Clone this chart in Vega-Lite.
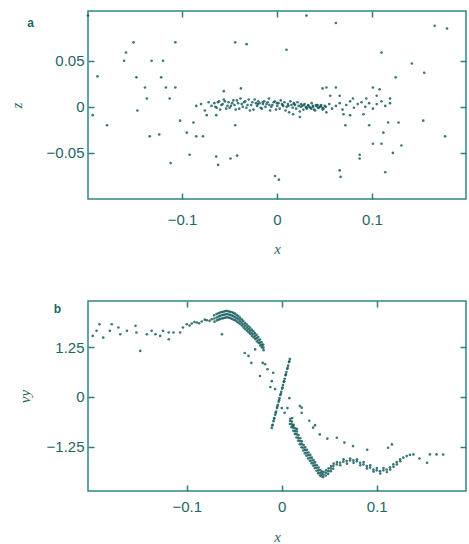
{
  "$schema": "https://vega.github.io/schema/vega-lite/v6.json",
  "background": "white",
  "padding": {"left": 8, "top": 9, "right": 3, "bottom": 3},
  "spacing": 102,
  "bounds": "flush",
  "config": {
    "view": {"stroke": "#2f8585", "strokeWidth": 1.5},
    "axis": {
      "domain": false,
      "grid": false,
      "tickColor": "#2a7f7f",
      "tickSize": -6,
      "tickWidth": 1.5,
      "labelFont": "Liberation Sans",
      "labelFontSize": 15,
      "labelColor": "#1e6565",
      "titleFont": "Liberation Serif",
      "titleFontSize": 15,
      "titleFontStyle": "italic",
      "titleFontWeight": "normal",
      "titleColor": "#1e6565"
    }
  },
  "datasets": {
    "a": [
      {"x": -0.199, "z": 0.099}, {"x": -0.151, "z": 0.070}, {"x": -0.107, "z": 0.070}, {"x": -0.044, "z": 0.070},
      {"x": -0.032, "z": 0.068}, {"x": 0.010, "z": 0.062}, {"x": 0.110, "z": 0.059}, {"x": -0.159, "z": 0.059},
      {"x": -0.161, "z": 0.050}, {"x": -0.132, "z": 0.050}, {"x": -0.120, "z": 0.050}, {"x": 0.142, "z": 0.047},
      {"x": 0.155, "z": 0.037}, {"x": 0.125, "z": 0.032}, {"x": -0.148, "z": 0.032}, {"x": -0.122, "z": 0.032},
      {"x": -0.189, "z": 0.033}, {"x": -0.117, "z": 0.021}, {"x": -0.107, "z": 0.021}, {"x": -0.139, "z": 0.021},
      {"x": -0.056, "z": 0.017}, {"x": -0.038, "z": 0.020}, {"x": 0.052, "z": 0.021}, {"x": 0.062, "z": 0.021},
      {"x": 0.101, "z": 0.021}, {"x": 0.108, "z": 0.019}, {"x": -0.137, "z": 0.009}, {"x": -0.113, "z": 0.009},
      {"x": -0.085, "z": 0.001}, {"x": -0.147, "z": -0.004}, {"x": -0.194, "z": -0.009}, {"x": -0.179, "z": -0.020},
      {"x": -0.102, "z": -0.015}, {"x": -0.088, "z": -0.017}, {"x": -0.074, "z": -0.009}, {"x": -0.064, "z": -0.009},
      {"x": -0.044, "z": -0.020}, {"x": 0.072, "z": -0.020}, {"x": 0.097, "z": -0.020}, {"x": 0.117, "z": -0.017},
      {"x": 0.128, "z": -0.017}, {"x": 0.154, "z": -0.015}, {"x": -0.134, "z": -0.032}, {"x": -0.124, "z": -0.030},
      {"x": -0.095, "z": -0.028}, {"x": -0.085, "z": -0.032}, {"x": -0.078, "z": -0.032}, {"x": 0.112, "z": -0.028},
      {"x": 0.177, "z": -0.032}, {"x": 0.101, "z": -0.040}, {"x": 0.110, "z": -0.040}, {"x": 0.122, "z": -0.050},
      {"x": 0.131, "z": -0.042}, {"x": -0.092, "z": -0.052}, {"x": -0.064, "z": -0.054}, {"x": -0.049, "z": -0.056},
      {"x": -0.042, "z": -0.053}, {"x": -0.112, "z": -0.061}, {"x": -0.062, "z": -0.063}, {"x": 0.087, "z": -0.052},
      {"x": 0.087, "z": -0.056}, {"x": 0.066, "z": -0.069}, {"x": 0.067, "z": -0.076}, {"x": 0.114, "z": -0.071},
      {"x": -0.002, "z": -0.075}, {"x": 0.002, "z": -0.079}, {"x": 0.031, "z": 0.099}, {"x": 0.062, "z": 0.091},
      {"x": 0.166, "z": 0.088}, {"x": 0.179, "z": 0.085}, {"x": 0.048, "z": 0.020}, {"x": 0.056, "z": 0.012},
      {"x": 0.066, "z": 0.012}, {"x": 0.080, "z": 0.009}, {"x": 0.094, "z": 0.009}, {"x": 0.105, "z": 0.012},
      {"x": 0.119, "z": 0.009}, {"x": 0.052, "z": -0.006}, {"x": 0.070, "z": -0.008}, {"x": 0.077, "z": -0.009},
      {"x": 0.091, "z": -0.008}, {"x": 0.017, "z": -0.008}, {"x": 0.024, "z": -0.011},
      {"x": -0.066, "z": 0.004}, {"x": -0.0635, "z": -0.001}, {"x": -0.061, "z": 0.006}, {"x": -0.0585, "z": 0.002},
      {"x": -0.056, "z": 0.008}, {"x": -0.0535, "z": -0.002}, {"x": -0.051, "z": 0.005}, {"x": -0.0485, "z": 0.001},
      {"x": -0.046, "z": 0.007}, {"x": -0.0435, "z": -0.003}, {"x": -0.041, "z": 0.004}, {"x": -0.0385, "z": 0.009},
      {"x": -0.036, "z": 0.000}, {"x": -0.0335, "z": 0.006}, {"x": -0.031, "z": 0.002}, {"x": -0.0285, "z": -0.004},
      {"x": -0.026, "z": 0.005}, {"x": -0.0235, "z": 0.008}, {"x": -0.021, "z": 0.001}, {"x": -0.0185, "z": 0.004},
      {"x": -0.016, "z": -0.002}, {"x": -0.0135, "z": 0.006}, {"x": -0.011, "z": 0.003}, {"x": -0.0085, "z": 0.009},
      {"x": -0.006, "z": 0.000}, {"x": -0.0035, "z": 0.005}, {"x": -0.001, "z": -0.003}, {"x": 0.0015, "z": 0.004},
      {"x": 0.004, "z": 0.007}, {"x": 0.0065, "z": 0.001}, {"x": 0.009, "z": -0.004}, {"x": 0.0115, "z": 0.003},
      {"x": 0.014, "z": 0.006}, {"x": 0.0165, "z": -0.001}, {"x": 0.019, "z": 0.002}, {"x": 0.0215, "z": 0.005},
      {"x": 0.024, "z": -0.005}, {"x": 0.0265, "z": 0.001}, {"x": 0.029, "z": 0.003}, {"x": 0.0315, "z": -0.002},
      {"x": 0.034, "z": 0.000}, {"x": 0.0365, "z": 0.004}, {"x": 0.039, "z": -0.003}, {"x": 0.0415, "z": 0.001},
      {"x": 0.044, "z": -0.001}, {"x": 0.0465, "z": 0.002}, {"x": 0.049, "z": -0.002}, {"x": 0.0515, "z": 0.000},
      {"x": -0.0648, "z": 0.000}, {"x": -0.0622, "z": 0.005}, {"x": -0.0598, "z": -0.003}, {"x": -0.0572, "z": 0.003},
      {"x": -0.0548, "z": 0.006}, {"x": -0.0522, "z": 0.001}, {"x": -0.0498, "z": -0.001}, {"x": -0.0472, "z": 0.004},
      {"x": -0.0448, "z": 0.002}, {"x": -0.0422, "z": 0.007}, {"x": -0.0398, "z": -0.002}, {"x": -0.0372, "z": 0.003},
      {"x": -0.0348, "z": 0.005}, {"x": -0.0322, "z": -0.001}, {"x": -0.0298, "z": 0.008}, {"x": -0.0272, "z": 0.002},
      {"x": -0.0248, "z": -0.003}, {"x": -0.0222, "z": 0.004}, {"x": -0.0198, "z": 0.006}, {"x": -0.0172, "z": -0.001},
      {"x": -0.0148, "z": 0.003}, {"x": -0.0122, "z": 0.000}, {"x": -0.0098, "z": 0.005}, {"x": -0.0072, "z": -0.004},
      {"x": -0.0048, "z": 0.002}, {"x": -0.0022, "z": 0.006}, {"x": 0.0002, "z": 0.001}, {"x": 0.0028, "z": -0.002},
      {"x": 0.0052, "z": 0.003}, {"x": 0.0078, "z": 0.005}, {"x": 0.0102, "z": 0.000}, {"x": 0.0128, "z": -0.006},
      {"x": 0.0152, "z": 0.002}, {"x": 0.0178, "z": 0.004}, {"x": 0.0202, "z": -0.002}, {"x": 0.0228, "z": 0.001},
      {"x": 0.0252, "z": 0.003}, {"x": 0.0278, "z": -0.003}, {"x": 0.0302, "z": 0.000}, {"x": 0.0328, "z": 0.002},
      {"x": 0.0352, "z": -0.001}, {"x": 0.0378, "z": 0.001}, {"x": 0.0402, "z": -0.004}, {"x": 0.0428, "z": 0.002},
      {"x": 0.0452, "z": 0.000}, {"x": 0.0478, "z": -0.001}, {"x": 0.0502, "z": 0.001},
      {"x": 0.025, "z": 0.000}, {"x": 0.028, "z": 0.002}, {"x": 0.031, "z": -0.001}, {"x": 0.033, "z": 0.001},
      {"x": 0.036, "z": -0.002}, {"x": 0.038, "z": 0.000}, {"x": 0.041, "z": 0.002}, {"x": 0.043, "z": -0.001},
      {"x": 0.046, "z": 0.001}, {"x": 0.048, "z": -0.003}, {"x": -0.020, "z": 0.003}, {"x": -0.015, "z": 0.005},
      {"x": -0.008, "z": 0.002}, {"x": 0.000, "z": 0.004}, {"x": 0.006, "z": 0.002}, {"x": 0.012, "z": 0.001},
      {"x": 0.018, "z": 0.003},
      {"x": -0.080, "z": 0.003}, {"x": -0.076, "z": -0.004}, {"x": -0.072, "z": 0.005}, {"x": -0.069, "z": 0.001},
      {"x": 0.055, "z": 0.003}, {"x": 0.058, "z": -0.002}, {"x": 0.062, "z": 0.001}, {"x": 0.066, "z": 0.004},
      {"x": 0.069, "z": -0.003}, {"x": 0.073, "z": 0.002}, {"x": 0.077, "z": 0.006}, {"x": 0.081, "z": -0.001},
      {"x": 0.085, "z": 0.003}, {"x": 0.089, "z": 0.005}, {"x": 0.093, "z": 0.000}, {"x": 0.097, "z": 0.004},
      {"x": 0.101, "z": -0.002}, {"x": 0.105, "z": 0.003}, {"x": 0.110, "z": 0.006}, {"x": 0.114, "z": 0.001},
      {"x": 0.119, "z": 0.004}
    ],
    "b": [
      {"x": -0.199, "vy": 1.540}, {"x": -0.195, "vy": 1.667}, {"x": -0.192, "vy": 1.835}, {"x": -0.179, "vy": 1.835},
      {"x": -0.172, "vy": 1.751}, {"x": -0.170, "vy": 1.582}, {"x": -0.163, "vy": 1.667}, {"x": -0.154, "vy": 1.793},
      {"x": -0.153, "vy": 1.625}, {"x": -0.149, "vy": 1.162}, {"x": -0.142, "vy": 1.582}, {"x": -0.137, "vy": 1.667},
      {"x": -0.133, "vy": 1.582}, {"x": -0.128, "vy": 1.540}, {"x": -0.125, "vy": 1.667}, {"x": -0.119, "vy": 1.456},
      {"x": -0.114, "vy": 1.625}, {"x": -0.107, "vy": 1.625}, {"x": -0.104, "vy": 1.751}, {"x": -0.181, "vy": 1.667},
      {"x": -0.188, "vy": 1.498}, {"x": -0.119, "vy": 1.625}, {"x": -0.063, "vy": 1.582},
      {"x": -0.100, "vy": 1.835}, {"x": -0.097, "vy": 1.80}, {"x": -0.0947, "vy": 1.852}, {"x": -0.092, "vy": 1.89},
      {"x": -0.0895, "vy": 1.877}, {"x": -0.087, "vy": 1.86}, {"x": -0.0842, "vy": 1.902}, {"x": -0.081, "vy": 1.95},
      {"x": -0.0789, "vy": 1.936}, {"x": -0.076, "vy": 1.92}, {"x": -0.0737, "vy": 1.961},
      {"x": -0.0710, "vy": 1.98}, {"x": -0.0712, "vy": 2.06}, {"x": -0.0708, "vy": 1.90},
      {"x": -0.0684, "vy": 2.003}, {"x": -0.0686, "vy": 2.09}, {"x": -0.0682, "vy": 1.93},
      {"x": -0.0665, "vy": 2.03}, {"x": -0.0667, "vy": 2.11}, {"x": -0.0663, "vy": 1.95},
      {"x": -0.0649, "vy": 2.045}, {"x": -0.0651, "vy": 2.13}, {"x": -0.0647, "vy": 1.97},
      {"x": -0.0630, "vy": 2.06}, {"x": -0.0632, "vy": 2.14}, {"x": -0.0628, "vy": 1.98},
      {"x": -0.0614, "vy": 2.071}, {"x": -0.0616, "vy": 2.15}, {"x": -0.0612, "vy": 1.99},
      {"x": -0.0597, "vy": 2.08}, {"x": -0.0599, "vy": 2.16}, {"x": -0.0595, "vy": 2.00},
      {"x": -0.0579, "vy": 2.088}, {"x": -0.0581, "vy": 2.17}, {"x": -0.0577, "vy": 2.01},
      {"x": -0.0561, "vy": 2.08}, {"x": -0.0563, "vy": 2.16}, {"x": -0.0559, "vy": 2.00},
      {"x": -0.0544, "vy": 2.071}, {"x": -0.0546, "vy": 2.15}, {"x": -0.0542, "vy": 1.99},
      {"x": -0.0527, "vy": 2.055}, {"x": -0.0529, "vy": 2.14}, {"x": -0.0525, "vy": 1.97},
      {"x": -0.0509, "vy": 2.037}, {"x": -0.0511, "vy": 2.12}, {"x": -0.0507, "vy": 1.95},
      {"x": -0.0491, "vy": 2.01}, {"x": -0.0493, "vy": 2.10}, {"x": -0.0489, "vy": 1.93},
      {"x": -0.0474, "vy": 1.987}, {"x": -0.0476, "vy": 2.07}, {"x": -0.0472, "vy": 1.90},
      {"x": -0.0456, "vy": 1.955}, {"x": -0.0458, "vy": 2.04}, {"x": -0.0454, "vy": 1.87},
      {"x": -0.0439, "vy": 1.919}, {"x": -0.0441, "vy": 2.00}, {"x": -0.0437, "vy": 1.84},
      {"x": -0.0421, "vy": 1.88}, {"x": -0.0423, "vy": 1.96}, {"x": -0.0419, "vy": 1.80},
      {"x": -0.0404, "vy": 1.835}, {"x": -0.0406, "vy": 1.92}, {"x": -0.0402, "vy": 1.75},
      {"x": -0.0386, "vy": 1.79}, {"x": -0.0388, "vy": 1.87}, {"x": -0.0384, "vy": 1.71},
      {"x": -0.0368, "vy": 1.751}, {"x": -0.0370, "vy": 1.83}, {"x": -0.0366, "vy": 1.67},
      {"x": -0.0350, "vy": 1.71}, {"x": -0.0352, "vy": 1.79}, {"x": -0.0348, "vy": 1.63},
      {"x": -0.0333, "vy": 1.667}, {"x": -0.0335, "vy": 1.75}, {"x": -0.0331, "vy": 1.59},
      {"x": -0.0315, "vy": 1.62}, {"x": -0.0317, "vy": 1.70}, {"x": -0.0313, "vy": 1.54},
      {"x": -0.0298, "vy": 1.582}, {"x": -0.0300, "vy": 1.66}, {"x": -0.0296, "vy": 1.50},
      {"x": -0.0280, "vy": 1.53}, {"x": -0.0282, "vy": 1.61}, {"x": -0.0278, "vy": 1.46},
      {"x": -0.0263, "vy": 1.481}, {"x": -0.0265, "vy": 1.56}, {"x": -0.0261, "vy": 1.40},
      {"x": -0.0245, "vy": 1.43}, {"x": -0.0247, "vy": 1.51}, {"x": -0.0243, "vy": 1.36},
      {"x": -0.0228, "vy": 1.372}, {"x": -0.0230, "vy": 1.45}, {"x": -0.0226, "vy": 1.30},
      {"x": -0.0210, "vy": 1.31}, {"x": -0.0212, "vy": 1.38}, {"x": -0.0208, "vy": 1.25},
      {"x": -0.0193, "vy": 1.246}, {"x": -0.0195, "vy": 1.32}, {"x": -0.0191, "vy": 1.18},
      {"x": -0.039, "vy": 1.11}, {"x": -0.032, "vy": 0.86}, {"x": -0.020, "vy": 0.86}, {"x": -0.023, "vy": 0.53},
      {"x": -0.009, "vy": 0.61}, {"x": -0.0105, "vy": 0.40}, {"x": -0.007, "vy": 0.20}, {"x": -0.035, "vy": 1.035},
      {"x": -0.0175, "vy": 0.825}, {"x": -0.015, "vy": 0.70}, {"x": -0.028, "vy": 1.20}, {"x": -0.012, "vy": 0.25},
      {"x": -0.0105, "vy": -0.78}, {"x": -0.0096, "vy": -0.70}, {"x": -0.0087, "vy": -0.61}, {"x": -0.0078, "vy": -0.53},
      {"x": -0.0069, "vy": -0.45}, {"x": -0.0060, "vy": -0.37}, {"x": -0.0051, "vy": -0.28}, {"x": -0.0042, "vy": -0.20},
      {"x": -0.0033, "vy": -0.12}, {"x": -0.0024, "vy": -0.03}, {"x": -0.0015, "vy": 0.05}, {"x": -0.0005, "vy": 0.13},
      {"x": 0.0004, "vy": 0.21}, {"x": 0.0013, "vy": 0.30}, {"x": 0.0022, "vy": 0.38}, {"x": 0.0031, "vy": 0.46},
      {"x": 0.0040, "vy": 0.55}, {"x": 0.0049, "vy": 0.63}, {"x": 0.0058, "vy": 0.71}, {"x": 0.0067, "vy": 0.79},
      {"x": 0.0076, "vy": 0.88}, {"x": 0.0085, "vy": 0.96},
      {"x": -0.0100, "vy": -0.72}, {"x": -0.0082, "vy": -0.55}, {"x": -0.0064, "vy": -0.40}, {"x": -0.0046, "vy": -0.24},
      {"x": -0.0028, "vy": -0.08}, {"x": -0.0010, "vy": 0.08}, {"x": 0.0008, "vy": 0.24}, {"x": 0.0026, "vy": 0.40},
      {"x": 0.0044, "vy": 0.57}, {"x": 0.0062, "vy": 0.73}, {"x": 0.0080, "vy": 0.90},
      {"x": 0.000, "vy": -0.28}, {"x": 0.003, "vy": -0.40}, {"x": 0.008, "vy": -0.03}, {"x": 0.006, "vy": -0.28},
      {"x": 0.019, "vy": -0.23}, {"x": 0.021, "vy": -0.40}, {"x": 0.011, "vy": -0.53}, {"x": 0.012, "vy": -0.73},
      {"x": 0.016, "vy": -0.81}, {"x": 0.035, "vy": -0.71},
      {"x": 0.0088, "vy": -0.606}, {"x": 0.0090, "vy": -0.55}, {"x": 0.0086, "vy": -0.68},
      {"x": 0.0105, "vy": -0.69}, {"x": 0.0107, "vy": -0.62}, {"x": 0.0103, "vy": -0.76},
      {"x": 0.0123, "vy": -0.774}, {"x": 0.0125, "vy": -0.70}, {"x": 0.0121, "vy": -0.85},
      {"x": 0.0140, "vy": -0.86}, {"x": 0.0142, "vy": -0.79}, {"x": 0.0138, "vy": -0.93},
      {"x": 0.0158, "vy": -0.943}, {"x": 0.0160, "vy": -0.87}, {"x": 0.0156, "vy": -1.02},
      {"x": 0.0175, "vy": -1.03}, {"x": 0.0177, "vy": -0.96}, {"x": 0.0173, "vy": -1.10},
      {"x": 0.0193, "vy": -1.111}, {"x": 0.0195, "vy": -1.04}, {"x": 0.0191, "vy": -1.19},
      {"x": 0.0210, "vy": -1.19}, {"x": 0.0212, "vy": -1.12}, {"x": 0.0208, "vy": -1.27},
      {"x": 0.0228, "vy": -1.279}, {"x": 0.0230, "vy": -1.21}, {"x": 0.0226, "vy": -1.35},
      {"x": 0.0245, "vy": -1.34}, {"x": 0.0247, "vy": -1.27}, {"x": 0.0243, "vy": -1.42},
      {"x": 0.0263, "vy": -1.406}, {"x": 0.0265, "vy": -1.33}, {"x": 0.0261, "vy": -1.48},
      {"x": 0.0280, "vy": -1.47}, {"x": 0.0282, "vy": -1.40}, {"x": 0.0278, "vy": -1.55},
      {"x": 0.0298, "vy": -1.532}, {"x": 0.0300, "vy": -1.46}, {"x": 0.0296, "vy": -1.61},
      {"x": 0.0315, "vy": -1.60}, {"x": 0.0317, "vy": -1.53}, {"x": 0.0313, "vy": -1.67},
      {"x": 0.0333, "vy": -1.658}, {"x": 0.0335, "vy": -1.59}, {"x": 0.0331, "vy": -1.73},
      {"x": 0.0350, "vy": -1.72}, {"x": 0.0352, "vy": -1.65}, {"x": 0.0348, "vy": -1.79},
      {"x": 0.0368, "vy": -1.785}, {"x": 0.0370, "vy": -1.72}, {"x": 0.0366, "vy": -1.86},
      {"x": 0.0386, "vy": -1.85}, {"x": 0.0388, "vy": -1.78}, {"x": 0.0384, "vy": -1.92},
      {"x": 0.0404, "vy": -1.911}, {"x": 0.0406, "vy": -1.84}, {"x": 0.0402, "vy": -1.98},
      {"x": 0.0421, "vy": -1.94}, {"x": 0.0423, "vy": -1.88}, {"x": 0.0419, "vy": -2.00},
      {"x": 0.0439, "vy": -1.953}, {"x": 0.0441, "vy": -1.89}, {"x": 0.0437, "vy": -2.02},
      {"x": 0.0465, "vy": -1.91}, {"x": 0.0467, "vy": -1.85}, {"x": 0.0463, "vy": -1.98},
      {"x": 0.0491, "vy": -1.869}, {"x": 0.0493, "vy": -1.80}, {"x": 0.0489, "vy": -1.94},
      {"x": 0.0518, "vy": -1.80}, {"x": 0.0520, "vy": -1.74}, {"x": 0.0516, "vy": -1.87},
      {"x": 0.0544, "vy": -1.742}, {"x": 0.0546, "vy": -1.68}, {"x": 0.0542, "vy": -1.81},
      {"x": 0.0579, "vy": -1.70}, {"x": 0.0581, "vy": -1.64}, {"x": 0.0614, "vy": -1.658}, {"x": 0.0616, "vy": -1.72},
      {"x": 0.0649, "vy": -1.63}, {"x": 0.0651, "vy": -1.57}, {"x": 0.0684, "vy": -1.616}, {"x": 0.0686, "vy": -1.68},
      {"x": 0.0719, "vy": -1.60}, {"x": 0.0721, "vy": -1.55}, {"x": 0.0754, "vy": -1.599}, {"x": 0.0756, "vy": -1.66},
      {"x": 0.0790, "vy": -1.62}, {"x": 0.0792, "vy": -1.57}, {"x": 0.0825, "vy": -1.658}, {"x": 0.0827, "vy": -1.72},
      {"x": 0.0860, "vy": -1.70}, {"x": 0.0862, "vy": -1.64}, {"x": 0.0895, "vy": -1.742}, {"x": 0.0897, "vy": -1.80},
      {"x": 0.0930, "vy": -1.78}, {"x": 0.0932, "vy": -1.72}, {"x": 0.0965, "vy": -1.827}, {"x": 0.0967, "vy": -1.88},
      {"x": 0.1000, "vy": -1.85}, {"x": 0.1002, "vy": -1.79}, {"x": 0.1035, "vy": -1.869}, {"x": 0.1037, "vy": -1.93},
      {"x": 0.1070, "vy": -1.85}, {"x": 0.1072, "vy": -1.79}, {"x": 0.1105, "vy": -1.827}, {"x": 0.1107, "vy": -1.89},
      {"x": 0.1140, "vy": -1.77}, {"x": 0.1142, "vy": -1.83}, {"x": 0.1175, "vy": -1.700}, {"x": 0.1177, "vy": -1.76},
      {"x": 0.1210, "vy": -1.64}, {"x": 0.1212, "vy": -1.70}, {"x": 0.1246, "vy": -1.574}, {"x": 0.1248, "vy": -1.62},
      {"x": 0.1280, "vy": -1.53}, {"x": 0.1316, "vy": -1.490}, {"x": 0.1350, "vy": -1.46}, {"x": 0.1386, "vy": -1.448},
      {"x": 0.156, "vy": -1.448}, {"x": 0.163, "vy": -1.448}, {"x": 0.153, "vy": -1.658}, {"x": 0.116, "vy": -1.195},
      {"x": 0.112, "vy": -1.28}, {"x": 0.075, "vy": -1.237}, {"x": 0.058, "vy": -1.027}, {"x": 0.040, "vy": -0.943},
      {"x": 0.033, "vy": -0.774}, {"x": 0.021, "vy": -0.269}, {"x": 0.090, "vy": -1.33}, {"x": 0.066, "vy": -1.15},
      {"x": 0.048, "vy": -1.05}, {"x": 0.029, "vy": -0.60}, {"x": 0.145, "vy": -1.55}, {"x": 0.170, "vy": -1.45}
    ]
  },
  "vconcat": [
    {
      "width": 378,
      "height": 188,
      "data": {"name": "a"},
      "resolve": {"axis": {"x": "independent", "y": "independent"}},
      "layer": [
        {
          "mark": {"type": "circle", "size": 7, "color": "#0d5555", "opacity": 0.8},
          "encoding": {
            "x": {"field": "x", "type": "quantitative", "scale": {"domain": [-0.199, 0.199], "nice": false, "zero": false}, "axis": {"values": [-0.1, 0, 0.1], "format": ".2~f", "title": "x", "labelPadding": 19, "titlePadding": 14}},
            "y": {"field": "z", "type": "quantitative", "scale": {"domain": [-0.100, 0.104], "nice": false, "zero": false}, "axis": {"values": [-0.05, 0, 0.05], "format": ".2~f", "title": "z", "labelPadding": 10, "titlePadding": 22}}
          }
        },
        {
          "mark": {"type": "circle", "size": 7, "opacity": 0},
          "encoding": {
            "x": {"field": "x", "type": "quantitative", "axis": {"orient": "top", "values": [-0.1, 0, 0.1], "labels": false, "title": "a", "titleX": -58, "titleY": 11, "titleAngle": 0, "titleAlign": "center", "titleBaseline": "middle", "titleFont": "Liberation Sans", "titleFontSize": 12, "titleFontWeight": "bold", "titleFontStyle": "normal"}},
            "y": {"field": "z", "type": "quantitative", "axis": {"orient": "right", "values": [-0.05, 0, 0.05], "labels": false, "title": null}}
          }
        }
      ]
    },
    {
      "width": 378,
      "height": 190,
      "data": {"name": "b"},
      "resolve": {"axis": {"x": "independent", "y": "independent"}},
      "layer": [
        {
          "mark": {"type": "circle", "size": 7, "color": "#0d5555", "opacity": 0.8},
          "encoding": {
            "x": {"field": "x", "type": "quantitative", "scale": {"domain": [-0.204, 0.194], "nice": false, "zero": false}, "axis": {"values": [-0.1, 0, 0.1], "format": ".2~f", "title": "x", "labelPadding": 14, "titlePadding": 15}},
            "y": {"field": "vy", "type": "quantitative", "scale": {"domain": [-2.37, 2.42], "nice": false, "zero": false}, "axis": {"values": [-1.25, 0, 1.25], "format": ".2~f", "title": "vy", "labelPadding": 10, "titlePadding": 14}}
          }
        },
        {
          "mark": {"type": "circle", "size": 7, "opacity": 0},
          "encoding": {
            "x": {"field": "x", "type": "quantitative", "axis": {"orient": "top", "values": [-0.1, 0, 0.1], "labels": false, "title": "b", "titleX": -31, "titleY": 7, "titleAngle": 0, "titleAlign": "center", "titleBaseline": "middle", "titleFont": "Liberation Sans", "titleFontSize": 12, "titleFontWeight": "bold", "titleFontStyle": "normal"}},
            "y": {"field": "vy", "type": "quantitative", "axis": {"orient": "right", "values": [-1.25, 0, 1.25], "labels": false, "title": null}}
          }
        }
      ]
    }
  ]
}
